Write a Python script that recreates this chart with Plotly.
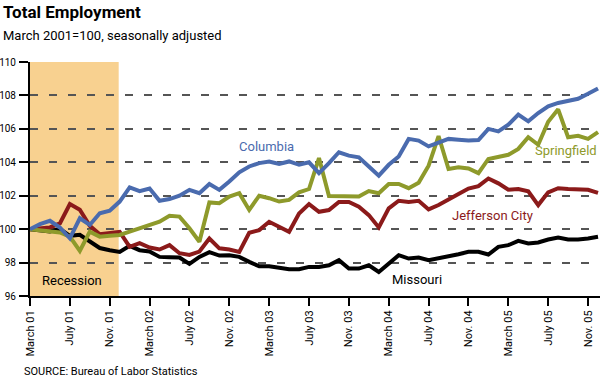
import plotly.graph_objects as go

# ---- data (index 0 = March 2001, monthly through Dec 2005) ----
months = list(range(58))
tick_idx = list(range(0, 58, 4))
tick_labels = ["March 01", "July 01", "Nov. 01", "March 02", "July 02", "Nov. 02",
               "March 03", "July 03", "Nov. 03", "March 04", "July 04", "Nov. 04",
               "March 05", "July 05", "Nov. 05"]

columbia = [100.0, 100.3, 100.5, 100.1, 99.45, 100.65, 100.25, 100.95, 101.1, 101.65,
            102.5, 102.27, 102.43, 101.7, 101.8, 102.0, 102.35, 102.15, 102.7, 102.35,
            102.85, 103.4, 103.75, 103.95, 104.05, 103.9, 104.05, 103.85, 104.0, 103.35,
            103.95, 104.6, 104.4, 104.3, 103.75, 103.2, 103.85, 104.35, 105.4, 105.3,
            104.95, 105.2, 105.4, 105.35, 105.3, 105.33, 106.0, 105.85, 106.25, 106.85,
            106.45, 106.95, 107.35, 107.55, 107.7, 107.8, 108.1, 108.42]

springfield = [100.0, 99.95, 99.9, 99.8, 99.55, 98.7, 99.85, 99.55, 99.6, 99.65,
               99.85, 100.05, 100.25, 100.45, 100.8, 100.75, 100.05, 99.25, 101.6, 101.55,
               101.95, 102.15, 101.15, 102.0, 101.85, 101.65, 101.75, 102.2, 102.4, 104.25,
               101.98, 101.98, 101.95, 101.95, 102.28, 102.15, 102.7, 102.7, 102.45, 102.77,
               103.8, 105.57, 103.6, 103.7, 103.63, 103.35, 104.2, 104.33, 104.45, 104.8,
               105.5, 105.05, 106.43, 107.17, 105.5, 105.58, 105.4, 105.8]

jefferson = [100.0, 100.05, 100.1, 100.34, 101.5, 101.16, 100.2, 99.7, 99.78, 99.84,
             98.94, 99.16, 98.9, 98.78, 99.04, 98.56, 98.46, 98.66, 99.44, 98.85,
             98.78, 98.64, 99.78, 99.94, 100.44, 100.14, 99.84, 100.94, 101.5, 101.04,
             101.14, 101.63, 101.63, 101.34, 100.84, 100.1, 101.24, 101.7, 101.63, 101.7,
             101.18, 101.44, 101.74, 102.1, 102.43, 102.57, 103.03, 102.74, 102.36, 102.4,
             102.26, 101.44, 102.2, 102.45, 102.4, 102.36, 102.35, 102.17]

missouri = [100.0, 99.94, 99.86, 100.02, 99.6, 99.66, 99.24, 98.87, 98.74, 98.64,
            99.0, 98.74, 98.66, 98.34, 98.32, 98.3, 97.92, 98.34, 98.62, 98.42,
            98.44, 98.34, 98.04, 97.78, 97.78, 97.7, 97.6, 97.6, 97.74, 97.74,
            97.84, 98.14, 97.64, 97.64, 97.84, 97.44, 97.94, 98.44, 98.24, 98.3,
            98.14, 98.24, 98.34, 98.5, 98.64, 98.64, 98.48, 98.94, 99.04, 99.3,
            99.14, 99.2, 99.38, 99.5, 99.38, 99.38, 99.44, 99.54]

recession = [0, 8.9]

FONT = "Roboto, sans-serif"

series = [
    ("Missouri", missouri, "#000000"),
    ("Jefferson City", jefferson, "#8B1A1A"),
    ("Springfield", springfield, "#8E9A2B"),
    ("Columbia", columbia, "#4A6BAE"),
]

fig = go.Figure()
for name, vals, col in series:
    fig.add_trace(go.Scatter(x=months, y=vals, mode="lines", name=name,
                             line=dict(color=col, width=4), showlegend=False))

fig.add_shape(type="rect", xref="x", yref="y", x0=recession[0], x1=recession[1],
              y0=96, y1=110, fillcolor="#F8D190", line=dict(width=0), layer="below")

L, R, T, B, W, H = 30, 0, 62, 84, 600, 380
pw, ph = W - L - R, H - T - B
def px(x): return (x - L) / pw
def py(y): return (H - B - y) / ph

ann = [
    dict(x=23.7, y=104.97, text="Columbia", color="#4A6BAE", xa="center"),
    dict(x=57.1, y=104.73, text="Springfield", color="#8E9A2B", xa="right"),
    dict(x=46.4, y=100.84, text="Jefferson City", color="#8B1A1A", xa="center"),
    dict(x=38.8, y=97.0, text="Missouri", color="#000000", xa="center"),
    dict(x=4.2, y=96.9, text="Recession", color="#000000", xa="center"),
]
for a in ann:
    fig.add_annotation(x=a["x"], y=a["y"], xref="x", yref="y", text=a["text"],
                       xanchor=a["xa"], showarrow=False,
                       font=dict(family=FONT, size=13, color=a["color"]))

fig.add_annotation(x=px(1), y=py(12), xref="paper", yref="paper", xanchor="left",
                   yanchor="middle", showarrow=False, text="<b>Total Employment</b>",
                   font=dict(family=FONT, size=17, color="black"))
fig.add_annotation(x=px(1), y=py(36), xref="paper", yref="paper", xanchor="left",
                   yanchor="middle", showarrow=False, text="March 2001=100, seasonally adjusted",
                   font=dict(family=FONT, size=13, color="black"))
fig.add_annotation(x=px(22), y=py(371), xref="paper", yref="paper", xanchor="left",
                   yanchor="middle", showarrow=False, text="SOURCE: Bureau of Labor Statistics",
                   font=dict(family=FONT, size=11, color="black"))

fig.update_layout(
    width=W, height=H, margin=dict(l=L, r=R, t=T, b=B),
    paper_bgcolor="white", plot_bgcolor="white",
    font=dict(family=FONT, color="black"),
    xaxis=dict(range=[0, 57.2], tickmode="array", tickvals=tick_idx, ticktext=tick_labels,
               tickangle=-90, ticks="outside", ticklen=8, tickwidth=2, tickcolor="black",
               showline=True, linecolor="black", linewidth=2, showgrid=False, zeroline=False,
               automargin=False, tickfont=dict(size=11)),
    yaxis=dict(range=[96, 110], tickmode="array", tickvals=list(range(96, 111, 2)),
               ticks="outside", ticklen=9, tickwidth=2, tickcolor="black",
               showline=True, linecolor="black", linewidth=2, zeroline=False,
               showgrid=True, gridcolor="#555555", gridwidth=1.5, griddash="8px,11px",
               automargin=False, ticklabelstandoff=1, tickfont=dict(size=10)),
)

fig.write_html("out.html", config={"displayModeBar": False},
               post_script="document.body.style.margin='0';document.body.style.padding='0';")
